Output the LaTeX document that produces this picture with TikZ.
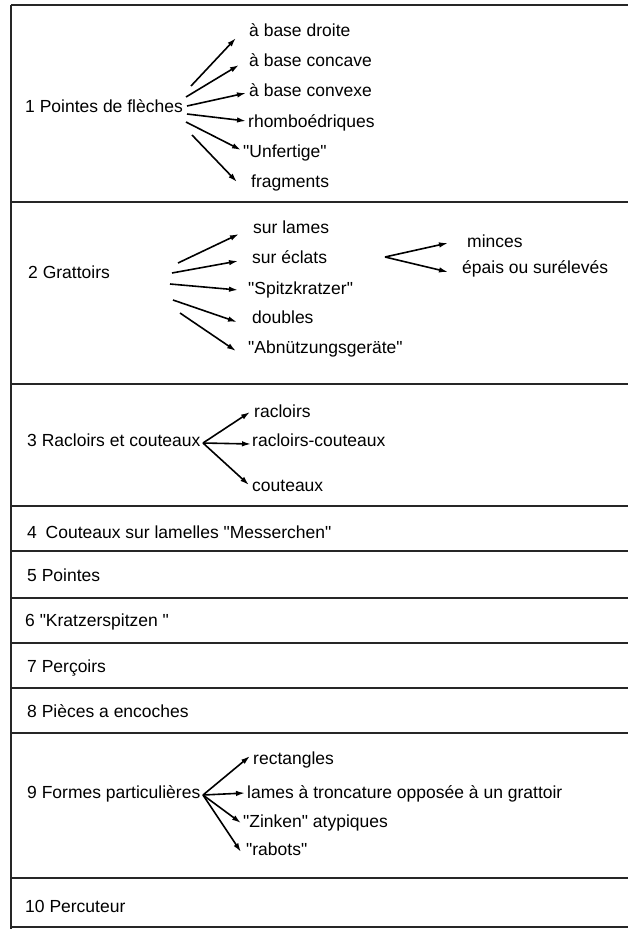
\documentclass[tikz,border=0pt]{standalone}
\usepackage{fontspec}
\setmainfont{Liberation Sans}[Ligatures=TeXOff]
\usetikzlibrary{arrows.meta,calc}
\newcommand{\dq}{\symbol{34}}
\begin{document}
\begin{tikzpicture}[x=1pt,y=-1pt,
  lbl/.style={anchor=base west,inner sep=0pt,font=\fontsize{17.5}{20}\selectfont},
  arr/.style={line width=1.6pt,-{Latex[length=9pt,width=5.5pt]}},
  rule/.style={line width=1.5pt,draw=black!85}]
\useasboundingbox (0,0) rectangle (628,929);
% frame
\draw[rule] (11,5) -- (11,929);
\foreach \yy in {5,202,384,506,551,598,643,688,733,878,927}
  \draw[rule] (11,\yy) -- (628,\yy);

% section 1
\node[lbl] (s1) at (25,112) {1 Pointes de flèches};
\node[lbl] (a1) at (249,36) {à base droite};
\node[lbl] (a2) at (249,66) {à base concave};
\node[lbl] (a3) at (249,96) {à base convexe};
\node[lbl] (a4) at (248,127) {rhomboédriques};
\node[lbl] (a5) at (243,157) {\dq Unfertige\dq};
\node[lbl] (a6) at (251,187) {fragments};
\coordinate (t1) at (191,86);
\coordinate (t2) at (186,97);
\coordinate (t3) at (187,106);
\coordinate (t4) at (187,114);
\coordinate (t5) at (186,122);
\coordinate (t6) at (192,135);
\draw[arr] (t1) -- ($(a1.base west)+(-13,2)$);
\draw[arr] (t2) -- ($(a2.base west)+(-10,-1)$);
\draw[arr] (t3) -- ($(a3.base west)+(-3,-3)$);
\draw[arr] (t4) -- ($(a4.base west)+(-2,-6)$);
\draw[arr] (t5) -- ($(a5.base west)+(-2,-7)$);
\draw[arr] (t6) -- ($(a6.base west)+(-14,-5)$);

% section 2
\node[lbl] (s2) at (28,278) {2 Grattoirs};
\node[lbl] (b1) at (253,233) {sur lames};
\node[lbl] (b2) at (252,263) {sur éclats};
\node[lbl] (b3) at (248,294) {\dq Spitzkratzer\dq};
\node[lbl] (b4) at (252,323) {doubles};
\node[lbl] (b5) at (248,353) {\dq Abnützungsgeräte\dq};
\node[lbl] (c1) at (467,247) {minces};
\node[lbl] (c2) at (462,273) {épais ou surélevés};
\coordinate (u1) at (178,263);
\coordinate (u2) at (172,273);
\coordinate (u3) at (170,284);
\coordinate (u4) at (173,300);
\coordinate (u5) at (180,313);
\coordinate (v) at (385,257);
\draw[arr] (u1) -- ($(b1.base west)+(-14,1)$);
\draw[arr] (u2) -- ($(b2.base west)+(-14,-2)$);
\draw[arr] (u3) -- ($(b3.base west)+(-10,-4)$);
\draw[arr] (u4) -- ($(b4.base west)+(-15,-1)$);
\draw[arr] (u5) -- ($(b5.base west)+(-12,-2)$);
\draw[arr] (v) -- ($(c1.base west)+(-19,-4)$);
\draw[arr] (v) -- ($(c2.base west)+(-14,-1)$);

% section 3
\node[lbl] (s3) at (27,446) {3 Racloirs et couteaux};
\node[lbl] (d1) at (254,417) {racloirs};
\node[lbl] (d2) at (252,446) {racloirs-couteaux};
\node[lbl] (d3) at (252,491) {couteaux};
\coordinate (w) at (203,443);
\draw[arr] (w) -- ($(d1.base west)+(-4,-5)$);
\draw[arr] (w) -- ($(d2.base west)+(-1,-2)$);
\draw[arr] (w) -- ($(d3.base west)+(-3,-6)$);

% sections 4-8
\node[lbl] (s4) at (27,538) {4\hspace{0.5em}Couteaux sur lamelles \dq Messerchen\dq};
\node[lbl] (s5) at (27,581) {5 Pointes};
\node[lbl] (s6) at (25,626) {6 \dq Kratzerspitzen \dq};
\node[lbl] (s7) at (27,672) {7 Perçoirs};
\node[lbl] (s8) at (27,717) {8 Pièces a encoches};

% section 9
\node[lbl] (s9) at (27,798) {9 Formes particulières};
\node[lbl] (e1) at (253,764) {rectangles};
\node[lbl] (e2) at (247,798) {lames à troncature opposée à un grattoir};
\node[lbl] (e3) at (243,827) {\dq Zinken\dq\ atypiques};
\node[lbl] (e4) at (246,855) {\dq rabots\dq};
\coordinate (z) at (203,795);
\draw[arr] (z) -- ($(e1.base west)+(-3,-8)$);
\draw[arr] (z) -- ($(e2.base west)+(-2,-5)$);
\draw[arr] (z) -- ($(e3.base west)+(-2,-4)$);
\draw[arr] (z) -- ($(e4.base west)+(-5,-3)$);

% section 10
\node[lbl] (s10) at (25,912) {10 Percuteur};
\end{tikzpicture}
\end{document}
